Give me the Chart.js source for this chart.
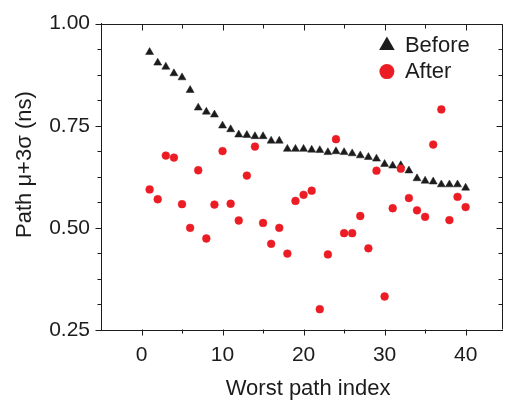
<!DOCTYPE html>
<html>
<head>
<meta charset="utf-8">
<script src="https://cdn.jsdelivr.net/npm/chart.js@4.4.1/dist/chart.umd.min.js"></script>
<style>
  html, body { margin: 0; padding: 0; background: #fff; }
  #wrap { width: 508px; height: 401px; }
</style>
</head>
<body>
<div id="wrap"><canvas id="chart"></canvas></div>
<script>
// --- data
const pathIndex = [1, 2, 3, 4, 5, 6, 7, 8, 9, 10, 11, 12, 13, 14, 15, 16, 17, 18, 19, 20,
  21, 22, 23, 24, 25, 26, 27, 28, 29, 30, 31, 32, 33, 34, 35, 36, 37, 38, 39, 40];
const beforeVals = [0.930, 0.904, 0.894, 0.878, 0.868, 0.837, 0.794, 0.784, 0.777, 0.750,
  0.741, 0.728, 0.727, 0.724, 0.724, 0.713, 0.713, 0.693, 0.693, 0.693,
  0.691, 0.690, 0.685, 0.687, 0.685, 0.682, 0.677, 0.673, 0.669, 0.656,
  0.652, 0.653, 0.640, 0.621, 0.615, 0.613, 0.606, 0.606, 0.606, 0.598];
const afterVals = [0.594, 0.570, 0.677, 0.672, 0.558, 0.500, 0.641, 0.474, 0.557, 0.688,
  0.559, 0.518, 0.628, 0.699, 0.512, 0.461, 0.500, 0.437, 0.566, 0.581,
  0.591, 0.301, 0.435, 0.717, 0.487, 0.487, 0.529, 0.450, 0.640, 0.332,
  0.548, 0.645, 0.573, 0.543, 0.527, 0.704, 0.790, 0.519, 0.576, 0.551];
const xLabels = ["0", "10", "20", "30", "40"];
const yLabels = ["0.25", "0.50", "0.75", "1.00"];

const FONT = "'Liberation Sans', Arial, sans-serif";
const INK = "#1c1c1c";
const RED = "#ec1c24";

const toPoints = vals => pathIndex.map((x, i) => ({ x, y: vals[i] }));
const isQuarter = v => Math.abs(v * 4 - Math.round(v * 4)) < 1e-6;

// frame: top/right border + tick marks on all four sides
const framePlugin = {
  id: "frame",
  afterDraw(chart) {
    const { ctx, chartArea: a, scales: { x, y } } = chart;
    const L = Math.round(a.left) + 0.5, R = Math.round(a.right) - 0.5;
    const T = Math.round(a.top) + 0.5, B = Math.round(a.bottom) - 0.5;
    ctx.save();
    ctx.strokeStyle = INK;
    ctx.lineWidth = 1;
    ctx.beginPath();
    ctx.moveTo(L, T); ctx.lineTo(R, T); ctx.lineTo(R, B);
    x.ticks.forEach(t => {
      if (t.value < 0 || t.value > x.max) return;
      const px = Math.round(x.getPixelForValue(t.value)) + 0.5;
      const len = t.value % 10 === 0 ? 6 : 4;
      ctx.moveTo(px, B); ctx.lineTo(px, B + len);
      ctx.moveTo(px, T); ctx.lineTo(px, T + len);
    });
    y.ticks.forEach(t => {
      const py = Math.round(y.getPixelForValue(t.value)) + 0.5;
      const len = isQuarter(t.value) ? 6 : 4;
      ctx.moveTo(L - len, py); ctx.lineTo(L, py);
      ctx.moveTo(R - len, py); ctx.lineTo(R, py);
    });
    ctx.stroke();
    ctx.restore();
  }
};

// legend inside the plot, top right
const legendPlugin = {
  id: "insideLegend",
  afterDraw(chart) {
    const { ctx, chartArea: a } = chart;
    const mx = a.right - 116, tx = a.right - 98;
    ctx.save();
    chart.data.datasets.forEach((ds, i) => {
      const cy = a.top + 22 + i * 26;
      ctx.fillStyle = ds.backgroundColor;
      ctx.beginPath();
      if (ds.pointStyle === "triangle") {
        const r = 9;
        for (let k = 0; k < 3; k++) {
          const ang = k * 2 * Math.PI / 3;
          const px = mx + Math.sin(ang) * r, py = cy - Math.cos(ang) * r;
          k ? ctx.lineTo(px, py) : ctx.moveTo(px, py);
        }
        ctx.closePath();
      } else {
        ctx.arc(mx, cy, 7.5, 0, Math.PI * 2);
      }
      ctx.fill();
      ctx.fillStyle = INK;
      ctx.font = "22px " + FONT;
      ctx.textBaseline = "middle";
      ctx.textAlign = "left";
      ctx.fillText(ds.label, tx, cy);
    });
    ctx.restore();
  }
};

new Chart(document.getElementById("chart"), {
  type: "scatter",
  data: {
    datasets: [
      {
        label: "Before",
        data: toPoints(beforeVals),
        pointStyle: "triangle",
        pointRadius: 4.6,
        backgroundColor: INK,
        borderColor: INK,
        borderWidth: 0.5,
        order: 2
      },
      {
        label: "After",
        data: toPoints(afterVals),
        pointStyle: "circle",
        pointRadius: 3.9,
        backgroundColor: RED,
        borderColor: RED,
        borderWidth: 0.5,
        order: 1
      }
    ]
  },
  options: {
    responsive: true,
    maintainAspectRatio: false,
    animation: false,
    layout: { padding: { top: 20, right: 2, left: 0, bottom: 0 } },
    plugins: { legend: { display: false }, tooltip: { enabled: false } },
    scales: {
      x: {
        type: "linear",
        min: -5,
        max: 44.6,
        grid: { display: false, drawTicks: false },
        border: { display: true, color: INK, width: 1 },
        ticks: {
          stepSize: 5,
          includeBounds: false,
          autoSkip: false,
          maxRotation: 0,
          padding: 13,
          color: INK,
          font: { family: FONT, size: 21 },
          callback: v => (xLabels.includes(String(v)) ? String(v) : "")
        },
        title: {
          display: true,
          text: "  Worst path index",
          color: INK,
          font: { family: FONT, size: 22, lineHeight: 1 },
          padding: { top: 0, bottom: 1 }
        },
        afterFit: s => { s.height = 71; }
      },
      y: {
        min: 0.25,
        max: 1.0,
        grid: { display: false, drawTicks: false },
        border: { display: true, color: INK, width: 1 },
        ticks: {
          stepSize: 0.0625,
          autoSkip: false,
          padding: 11,
          color: INK,
          font: { family: FONT, size: 21 },
          callback: v => {
            const s = Number(v).toFixed(2);
            return isQuarter(v) && yLabels.includes(s) ? s : "";
          }
        },
        title: {
          display: true,
          text: "    Path \u03bc+3\u03c3 (ns)",
          color: INK,
          font: { family: FONT, size: 22, lineHeight: 1 },
          padding: { top: 14, bottom: 0 }
        },
        afterFit: s => { s.width = 101; }
      }
    }
  },
  plugins: [framePlugin, legendPlugin]
});
</script>
</body>
</html>
